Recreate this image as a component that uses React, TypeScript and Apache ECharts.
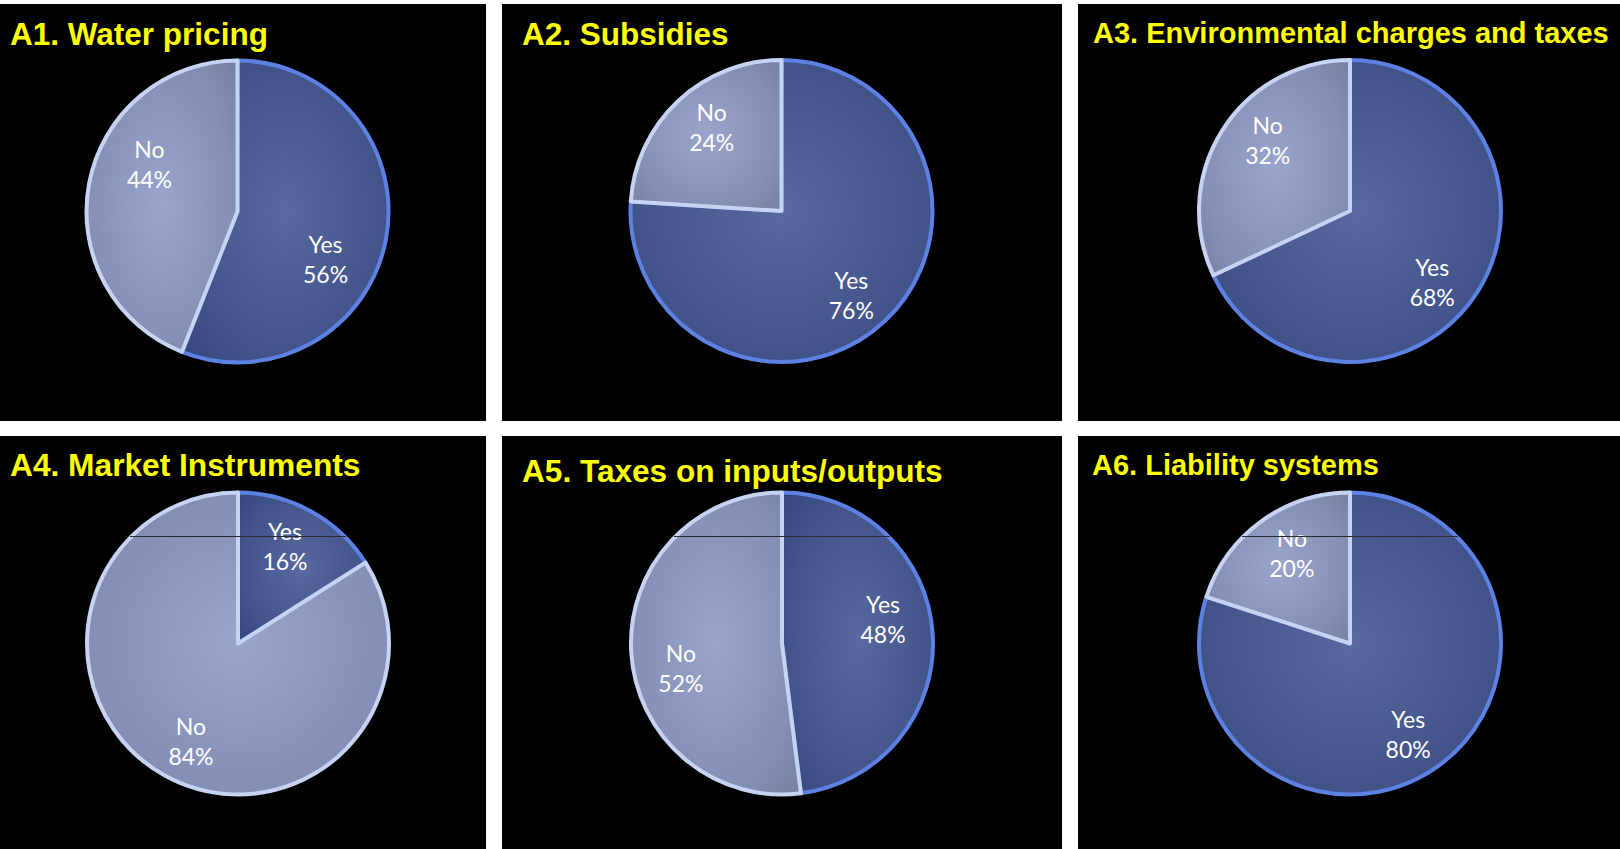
import React, { useEffect, useRef } from "react";
import * as echarts from "echarts";

// ---------- data ----------
const panelTitles = [
  "A1. Water pricing",
  "A2. Subsidies",
  "A3. Environmental charges and taxes",
  "A4. Market Instruments",
  "A5. Taxes on inputs/outputs",
  "A6. Liability systems",
];
const categories = ["Yes", "No"];
const yesValues = [56, 76, 68, 16, 48, 80];
const noValues = [44, 24, 32, 84, 52, 20];

// ---------- layout (not data) ----------
const W = 1620;
const H = 849;
const PIE_R = 151;
const panelRects = [
  [0, 4, 486, 417],
  [502, 4, 560, 417],
  [1078, 4, 542, 417],
  [0, 436, 486, 413],
  [502, 436, 560, 413],
  [1078, 436, 542, 413],
];
const pieCenters = [
  [237.5, 211.5],
  [781.5, 211],
  [1350, 211],
  [238, 643.5],
  [782, 643.5],
  [1350, 643.5],
];
const titleLayout = [
  { x: 10, y: 34, size: 31.5 },
  { x: 522, y: 34, size: 31.5 },
  { x: 1093, y: 33, size: 29 },
  { x: 10, y: 465, size: 31.7 },
  { x: 522, y: 470.5, size: 31.6 },
  { x: 1092, y: 464.5, size: 29 },
];
// ring used only to place the "inside" labels (radius/2 = label distance), and its rotation
const labelRing = [
  { r: 194, rot: 17.5 },
  { r: 213, rot: 3.6 },
  { r: 211, rot: 8.3 },
  { r: 210, rot: -3 },
  { r: 202, rot: -10 },
  { r: 210, rot: 3.4 },
];
const CHORD_Y = 536.5;

const sliceStyle: Record<string, any> = {
  Yes: {
    color: {
      type: "radial",
      x: 0.5,
      y: 0.5,
      r: 0.72,
      colorStops: [
        { offset: 0, color: "#58699f" },
        { offset: 0.65, color: "#43548b" },
        { offset: 1, color: "#34457d" },
      ],
    },
    borderColor: "#5d82e4",
    borderWidth: 4,
  },
  No: {
    color: {
      type: "radial",
      x: 0.5,
      y: 0.5,
      r: 0.72,
      colorStops: [
        { offset: 0, color: "#9ba5cb" },
        { offset: 0.65, color: "#8690b6" },
        { offset: 1, color: "#757ea2" },
      ],
    },
    borderColor: "#c6d3f2",
    borderWidth: 4,
  },
};

export default function App() {
  const ref = useRef<HTMLDivElement>(null);

  useEffect(() => {
    if (!ref.current) return;
    const chart = echarts.init(ref.current, undefined, { renderer: "svg" });

    const series: any[] = [];
    panelTitles.forEach((_, i) => {
      const vals = [yesValues[i], noValues[i]];
      const data = categories.map((c, j) => ({
        name: c,
        value: vals[j],
        itemStyle: sliceStyle[c],
      }));
      series.push({
        type: "pie",
        center: pieCenters[i],
        radius: PIE_R,
        startAngle: 90,
        clockwise: true,
        silent: true,
        z: 2,
        label: { show: false },
        labelLine: { show: false },
        emphasis: { disabled: true },
        data,
      });
      series.push({
        type: "pie",
        center: pieCenters[i],
        radius: labelRing[i].r,
        startAngle: 90 - labelRing[i].rot,
        clockwise: true,
        silent: true,
        z: 6,
        itemStyle: { color: "rgba(0,0,0,0)", borderWidth: 0 },
        label: {
          show: true,
          position: "inside",
          formatter: "{b}\n{c}%",
          color: "#ffffff",
          fontFamily: "Lato, 'Open Sans', sans-serif",
          fontSize: 23,
          lineHeight: 30,
          overflow: "none",
        },
        labelLine: { show: false },
        emphasis: { disabled: true },
        data: categories.map((c, j) => ({ name: c, value: vals[j] })),
      });
    });

    const graphics: any[] = [];
    panelRects.forEach((r) => {
      graphics.push({
        type: "rect",
        z: 0,
        shape: { x: r[0], y: r[1], width: r[2], height: r[3] },
        style: { fill: "#000000" },
        silent: true,
      });
    });
    panelTitles.forEach((t, i) => {
      const tl = titleLayout[i];
      graphics.push({
        type: "text",
        z: 20,
        x: tl.x,
        y: tl.y,
        style: {
          text: t,
          fill: "#ffff00",
          fontFamily: "'Liberation Sans', Arial, sans-serif",
          fontWeight: "bold",
          fontSize: tl.size,
          align: "left",
          verticalAlign: "middle",
        },
        silent: true,
      });
    });
    // thin dark chord line across the lower row of pies
    for (let i = 3; i < 6; i++) {
      const [cx, cy] = pieCenters[i];
      const dy = CHORD_Y - cy;
      const half = Math.sqrt(Math.max(0, (PIE_R + 1) * (PIE_R + 1) - dy * dy));
      graphics.push({
        type: "line",
        z: 10,
        shape: { x1: cx - half, y1: CHORD_Y, x2: cx + half, y2: CHORD_Y },
        style: { stroke: "#2a2a33", lineWidth: 1 },
        silent: true,
      });
    }

    chart.setOption({
      animation: false,
      backgroundColor: "#ffffff",
      series,
      graphic: { elements: graphics },
    });

    return () => chart.dispose();
  }, []);

  return (
    <div
      ref={ref}
      style={{ position: "absolute", left: 0, top: 0, width: W, height: H }}
    />
  );
}
